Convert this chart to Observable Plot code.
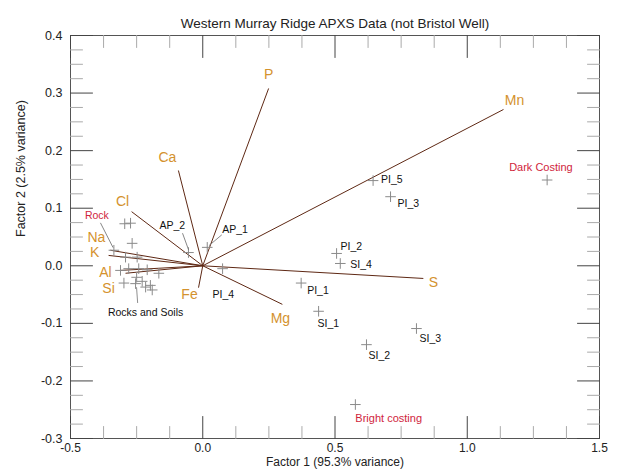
<!DOCTYPE html>
<html><head><meta charset="utf-8">
<script src="https://cdn.jsdelivr.net/npm/d3@7"></script>
<script src="https://cdn.jsdelivr.net/npm/@observablehq/plot@0.6"></script>
<style>
body{margin:0;background:#fff;}
svg{font-family:"Liberation Sans",Arial,Helvetica,sans-serif;}
</style>
</head><body><div id="chart"></div>
<script>
// ---- data ----
const title = "Western Murray Ridge APXS Data (not Bristol Well)";
const xTitle = "Factor 1 (95.3% variance)";
const yTitle = "Factor 2 (2.5% variance)";

// element loadings (vector end points)
const elements = ["P", "Mn", "Ca", "Cl", "Na", "K", "Al", "Si", "Fe", "Mg", "S"];
const loadF1 = [0.249, 1.137, -0.092, -0.269, -0.349, -0.356, -0.311, -0.292, -0.016, 0.301, 0.834];
const loadF2 = [0.308, 0.2715, 0.1655, 0.094, 0.027, 0.018, -0.008, -0.013, -0.038, -0.067, -0.022];

// labelled samples
const sampleNames = ["PI_5", "PI_3", "PI_2", "SI_4", "PI_1", "SI_1", "SI_3", "SI_2", "PI_4", "AP_1", "AP_2"];
const sampleF1 = [0.644, 0.71, 0.506, 0.52, 0.372, 0.438, 0.808, 0.619, 0.075, 0.017, -0.054];
const sampleF2 = [0.148, 0.12, 0.0214, 0.004, -0.030, -0.079, -0.109, -0.137, -0.005, 0.032, 0.023];

// coatings
const coatingNames = ["Dark Costing", "Bright costing"];
const coatingF1 = [1.302, 0.577];
const coatingF2 = [0.149, -0.241];

// rocks and soils cluster
const rockF1 = [-0.295, -0.273, -0.267, -0.336, -0.292, -0.248, -0.311, -0.280, -0.242, -0.210, -0.166, -0.298, -0.254, -0.229, -0.216, -0.198, -0.191, -0.250];
const rockF2 = [0.073, 0.074, 0.039, 0.027, 0.015, 0.015, -0.008, -0.005, -0.005, -0.007, -0.013, -0.030, -0.031, -0.027, -0.037, -0.034, -0.042, -0.020];

// ticks
const xMajor = [-0.5, 0.0, 0.5, 1.0, 1.5];
const xMinor = [-0.375, -0.25, -0.125, 0.125, 0.25, 0.375, 0.625, 0.75, 0.875, 1.125, 1.25, 1.375];
const yMajor = [-0.3, -0.2, -0.1, 0.0, 0.1, 0.2, 0.3, 0.4];
const yMinor = [-0.275, -0.25, -0.225, -0.175, -0.15, -0.125, -0.075, -0.05, -0.025, 0.025, 0.05, 0.075, 0.125, 0.15, 0.175, 0.225, 0.25, 0.275, 0.325, 0.35, 0.375];

// ---- styles / label offsets (pixels) ----
const elemOffsets = [[0,-14],[11,-9],[-11,-13],[-9,-10],[-14,-13],[-14,-3],[-15,2],[-17,15],[-9,7],[-2,14],[10,4]];
const sampleOffsets = [[8,-1],[7,7],[4,-7],[10,1],[6,8],[-1,12],[3,10],[2,11],[-10,26],[15,-18],[-29,-27]];
const coatingOffsets = [[-38,-13],[0,14]];

const vecColor = "#5e2814";
const elemColor = "#d4922e";
const redColor = "#d0243c";
const ptColor = "#8a8a8a";

const line = {draw(context, l) { context.moveTo(0, 0); context.lineTo(0, -l); }};
const fmt = d => d.toFixed(1);

const idxE = d3.range(elements.length);
const idxS = d3.range(sampleNames.length);
const idxC = d3.range(coatingNames.length);
const idxR = d3.range(rockF1.length);

const marks = [];

// vectors from origin
marks.push(Plot.link(idxE, {x1: 0, y1: 0, x2: i => loadF1[i], y2: i => loadF2[i], stroke: vecColor, strokeWidth: 1}));
// element labels
idxE.forEach(i => marks.push(Plot.text([i], {x: i => loadF1[i], y: i => loadF2[i], text: i => elements[i],
  dx: elemOffsets[i][0], dy: elemOffsets[i][1], fill: elemColor, fontSize: 14})));

// points
const ptStyle = {symbol: "plus", r: 3.5, stroke: ptColor, strokeWidth: 1};
marks.push(Plot.dot(idxR, {x: i => rockF1[i], y: i => rockF2[i], ...ptStyle}));
marks.push(Plot.dot(idxS, {x: i => sampleF1[i], y: i => sampleF2[i], ...ptStyle}));
marks.push(Plot.dot(idxC, {x: i => coatingF1[i], y: i => coatingF2[i], ...ptStyle}));

// sample labels
idxS.forEach(i => marks.push(Plot.text([i], {x: i => sampleF1[i], y: i => sampleF2[i], text: i => sampleNames[i],
  dx: sampleOffsets[i][0], dy: sampleOffsets[i][1], textAnchor: "start", fill: "#111", fontSize: 10.5})));
idxC.forEach(i => marks.push(Plot.text([i], {x: i => coatingF1[i], y: i => coatingF2[i], text: i => coatingNames[i],
  dx: coatingOffsets[i][0], dy: coatingOffsets[i][1], textAnchor: "start", fill: redColor, fontSize: 11})));

// leader lines
const leader = {shape: line, anchor: "start", stroke: "#777", strokeWidth: 0.8};
marks.push(Plot.vector([9], {x: i => sampleF1[i], y: i => sampleF2[i], length: 16, rotate: 50, dx: 2, dy: -2, ...leader}));
marks.push(Plot.vector([10], {x: i => sampleF1[i], y: i => sampleF2[i], length: 17, rotate: -20, dx: 0, dy: -3, ...leader}));
marks.push(Plot.vector([3], {x: i => rockF1[i], y: i => rockF2[i], length: 27, rotate: -27, dx: -1, dy: -3, ...leader}));
marks.push(Plot.vector([12], {x: i => rockF1[i], y: i => rockF2[i], length: 15, rotate: 176, dx: 1, dy: 4, ...leader}));
marks.push(Plot.text([3], {x: i => rockF1[i], y: i => rockF2[i], text: () => "Rock", dx: -17, dy: -35, fill: redColor, fontSize: 10.5}));
marks.push(Plot.text([12], {x: i => rockF1[i], y: i => rockF2[i], text: () => "Rocks and Soils", dx: 10, dy: 29, fill: "#111", fontSize: 10.5}));

// frame and ticks
marks.push(Plot.frame({stroke: "#555", strokeWidth: 1}));
const tickStyle = (len, color) => ({shape: line, length: len, anchor: "start", stroke: color, strokeWidth: 1});
marks.push(Plot.vector(xMinor, {x: d => d, frameAnchor: "bottom", rotate: 0, ...tickStyle(12, "#aaa")}));
marks.push(Plot.vector(xMajor, {x: d => d, frameAnchor: "bottom", rotate: 0, ...tickStyle(22, "#444")}));
marks.push(Plot.vector(xMinor, {x: d => d, frameAnchor: "top", rotate: 180, ...tickStyle(12, "#aaa")}));
marks.push(Plot.vector(xMajor, {x: d => d, frameAnchor: "top", rotate: 180, ...tickStyle(22, "#444")}));
marks.push(Plot.vector(yMinor, {y: d => d, frameAnchor: "left", rotate: 90, ...tickStyle(12, "#aaa")}));
marks.push(Plot.vector(yMajor, {y: d => d, frameAnchor: "left", rotate: 90, ...tickStyle(22, "#444")}));
marks.push(Plot.vector(yMinor, {y: d => d, frameAnchor: "right", rotate: -90, ...tickStyle(12, "#aaa")}));
marks.push(Plot.vector(yMajor, {y: d => d, frameAnchor: "right", rotate: -90, ...tickStyle(22, "#444")}));

// axes labels
marks.push(Plot.axisX({ticks: xMajor, tickSize: 0, tickPadding: 5, tickFormat: fmt, label: null, fontSize: 12, color: "#222"}));
marks.push(Plot.axisY({ticks: yMajor, tickSize: 0, tickPadding: 8, tickFormat: fmt, label: null, fontSize: 12.5, color: "#222"}));

// titles
marks.push(Plot.text([title], {frameAnchor: "top", dy: -17, fontSize: 13.5, fill: "#222"}));
marks.push(Plot.text([xTitle], {frameAnchor: "bottom", dy: 27.5, fontSize: 12, fill: "#222"}));
marks.push(Plot.text([yTitle], {frameAnchor: "left", dx: -50, rotate: -90, fontSize: 12.5, fill: "#222"}));

const chart = Plot.plot({
  width: 617,
  height: 472,
  marginLeft: 70,
  marginRight: 18,
  marginTop: 35,
  marginBottom: 34,
  x: {domain: [-0.5, 1.5], axis: null},
  y: {domain: [-0.3, 0.4], axis: null},
  style: {background: "#fff", overflow: "visible"},
  marks
});
document.getElementById("chart").appendChild(chart);
</script>
</body></html>
